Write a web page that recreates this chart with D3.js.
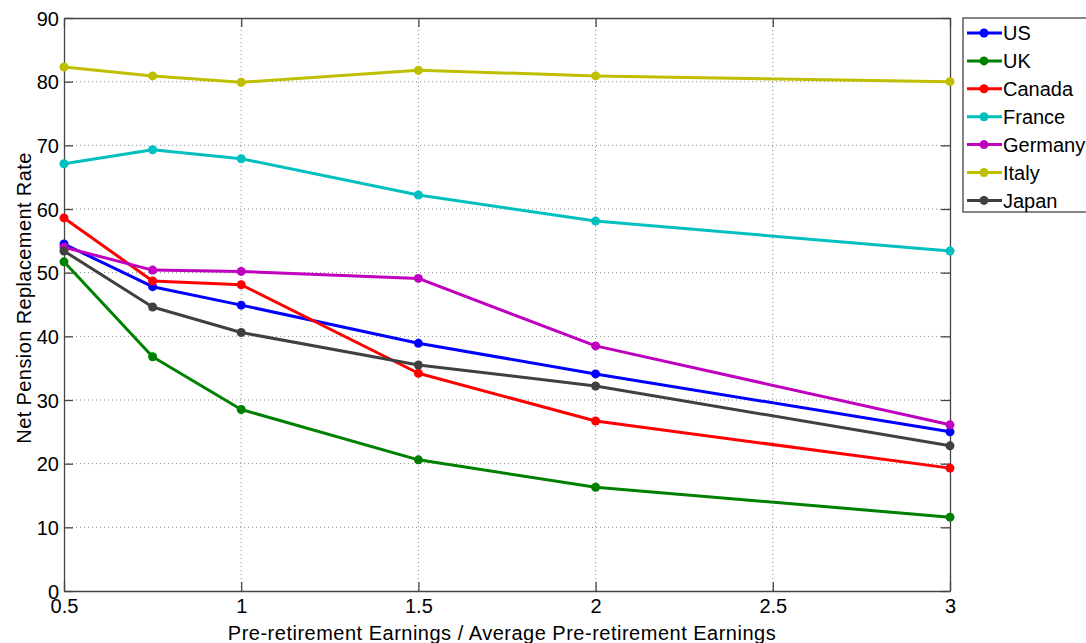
<!DOCTYPE html>
<html><head><meta charset="utf-8">
<script src="https://cdn.jsdelivr.net/npm/d3@7"></script>
<style>body{margin:0;background:#fff}svg{display:block;font-family:"Liberation Sans",Arial,sans-serif}</style>
</head><body><svg id="c" width="1086" height="643"></svg>
<script>
const xValues = [0.5, 0.75, 1, 1.5, 2, 3];
const seriesNames = ["US","UK","Canada","France","Germany","Italy","Japan"];
const US      = [54.5, 47.8, 44.9, 38.9, 34.1, 25.0];
const UK      = [51.7, 36.8, 28.5, 20.6, 16.3, 11.6];
const Canada  = [58.6, 48.7, 48.1, 34.2, 26.7, 19.3];
const France  = [67.1, 69.3, 67.9, 62.2, 58.1, 53.4];
const Germany = [54.0, 50.4, 50.2, 49.1, 38.5, 26.1];
const Italy   = [82.3, 80.9, 79.9, 81.8, 80.9, 80.0];
const Japan   = [53.4, 44.6, 40.6, 35.5, 32.2, 22.8];
const xTicks = [0.5, 1, 1.5, 2, 2.5, 3];
const yTicks = [0,10,20,30,40,50,60,70,80,90];
const colors = ["#0000ff","#008000","#ff0000","#00bfbf","#bf00bf","#bfbf00","#404040"];
const seriesData = [US, UK, Canada, France, Germany, Italy, Japan];

const svg = d3.select("#c");
const L=64, R=950, T=18, B=591;
const x = d3.scaleLinear().domain([0.5,3]).range([L,R]);
const y = d3.scaleLinear().domain([0,90]).range([B,T]);
const fs = 20;

// grid
const g = svg.append("g");
g.selectAll(".gx").data(xTicks.slice(1,-1)).enter().append("line")
 .attr("x1",d=>x(d)).attr("x2",d=>x(d)).attr("y1",T).attr("y2",B)
 .attr("stroke","#888").attr("stroke-width",1).attr("stroke-dasharray","1,3");
g.selectAll(".gy").data(yTicks.slice(1,-1)).enter().append("line")
 .attr("y1",d=>y(d)).attr("y2",d=>y(d)).attr("x1",L).attr("x2",R)
 .attr("stroke","#888").attr("stroke-width",1).attr("stroke-dasharray","1,3");

// axes (inward ticks, box)
const axCol="#444";
const axB = svg.append("g").attr("transform",`translate(0,${B})`)
 .call(d3.axisBottom(x).tickValues(xTicks).tickSizeInner(-9).tickSizeOuter(0).tickPadding(8).tickFormat(d3.format("")));
const axT = svg.append("g").attr("transform",`translate(0,${T})`)
 .call(d3.axisTop(x).tickValues(xTicks).tickSizeInner(-9).tickSizeOuter(0).tickFormat(""));
const axL = svg.append("g").attr("transform",`translate(${L},0)`)
 .call(d3.axisLeft(y).tickValues(yTicks).tickSizeInner(-9).tickSizeOuter(0).tickPadding(5));
const axR = svg.append("g").attr("transform",`translate(${R},0)`)
 .call(d3.axisRight(y).tickValues(yTicks).tickSizeInner(-9).tickSizeOuter(0).tickFormat(""));
[axB,axT,axL,axR].forEach(a=>{
  a.selectAll("path").attr("stroke",axCol).attr("stroke-width",1.3);
  a.selectAll("line").attr("stroke",axCol).attr("stroke-width",1.3);
  a.selectAll("text").attr("fill","#000").style("font-size",fs+"px").style("font-family","Liberation Sans, Arial, sans-serif");
});
axL.selectAll("text").attr("dy","0.36em");

// series
const line = d3.line().x((d,i)=>x(xValues[i])).y(d=>y(d));
seriesData.forEach((s,k)=>{
  svg.append("path").datum(s).attr("d",line).attr("fill","none")
    .attr("stroke",colors[k]).attr("stroke-width",3).attr("stroke-linejoin","round");
  svg.selectAll(null).data(s).enter().append("circle")
    .attr("cx",(d,i)=>x(xValues[i])).attr("cy",d=>y(d)).attr("r",4.5).attr("fill",colors[k]);
});

// axis labels
svg.append("text").attr("x",(L+R)/2-5).attr("y",640).attr("text-anchor","middle")
  .style("font-size",fs+"px").style("letter-spacing","0.5px").text("Pre-retirement Earnings / Average Pre-retirement Earnings");
svg.append("text").attr("transform",`translate(31,${298}) rotate(-90)`).attr("text-anchor","middle")
  .style("font-size",fs+"px").style("letter-spacing","0.4px").text("Net Pension Replacement Rate");

// legend
const lg = svg.append("g");
lg.append("rect").attr("x",963).attr("y",18).attr("width",140).attr("height",194)
  .attr("fill","#fff").attr("stroke",axCol).attr("stroke-width",1.3);
seriesNames.forEach((n,k)=>{
  const yy = 33 + k*27.9;
  lg.append("line").attr("x1",967).attr("x2",1002).attr("y1",yy).attr("y2",yy)
    .attr("stroke",colors[k]).attr("stroke-width",3);
  lg.append("circle").attr("cx",984).attr("cy",yy).attr("r",4.5).attr("fill",colors[k]);
  lg.append("text").attr("x",1003).attr("y",yy).attr("dy","0.36em").style("font-size",fs+"px").text(n);
});
</script></body></html>
